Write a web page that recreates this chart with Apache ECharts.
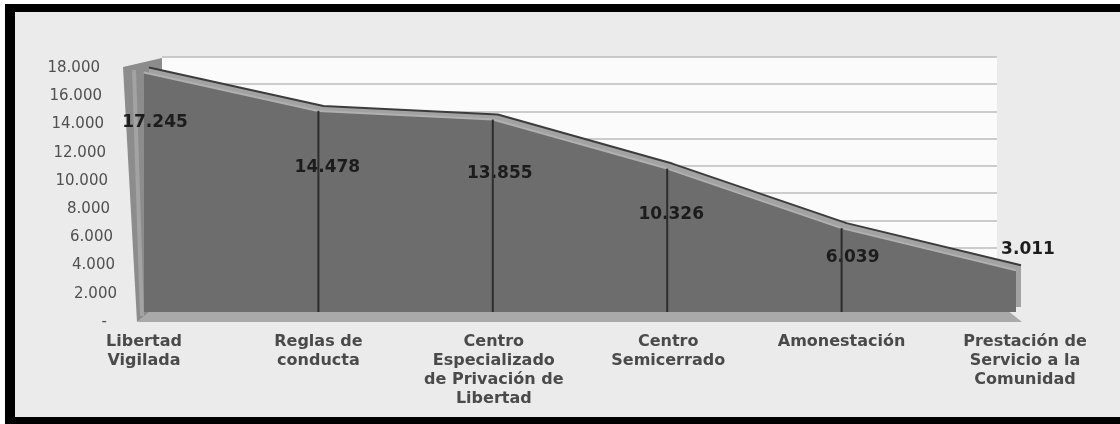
<!DOCTYPE html>
<html>
<head>
<meta charset="utf-8">
<script src="https://cdn.jsdelivr.net/npm/echarts@6/dist/echarts.min.js"></script>
<style>
  html, body { margin: 0; padding: 0; background: #ffffff; }
  #wrap { position: relative; width: 1120px; height: 424px; overflow: hidden; background: #ffffff; }
  #frame { position: absolute; left: 5px; top: 4px; width: 1115px; height: 420px; box-sizing: border-box;
           border-top: 8px solid #000; border-left: 10px solid #000; border-bottom: 7px solid #000; background: #ebebeb; }
  #chart { position: absolute; left: 0; top: 0; width: 1120px; height: 424px; }
</style>
</head>
<body>
<div id="wrap"><div id="frame"></div><div id="chart"></div></div>
<script>
// ---- data ----
const categories = [
  'Libertad\nVigilada',
  'Reglas de\nconducta',
  'Centro\nEspecializado\nde Privación de\nLibertad',
  'Centro\nSemicerrado',
  'Amonestación',
  'Prestación de\nServicio a la\nComunidad'
];
const values = [17245, 14478, 13855, 10326, 6039, 3011];
const yMin = 0, yMax = 18000, yStep = 2000;

// ---- label placement (style, not data) ----
const LABEL_OFFSETS = [[11, 50], [9, 57], [7, 54], [4, 46], [11, 29], [12, -21]];
const XLABEL_SHIFT = [0, 0, 2, 2, 0, 18];

function fmt(v) { return String(v).replace(/\B(?=(\d{3})+(?!\d))/g, '.'); }

const FONT = 'DejaVu Sans';
const richY = {};
for (let v = yMin; v <= yMax; v += yStep) {
  const pad = v === 0 ? 10 : Math.round(17 - (yMax - v) / yStep * 2.1);
  richY['p' + (v / yStep)] = { fontFamily: FONT, fontSize: 15, color: '#505050', padding: [0, pad, 0, 0] };
}
const richX = {};
XLABEL_SHIFT.forEach((s, i) => {
  richX['c' + i] = { fontFamily: FONT, fontSize: 16, fontWeight: 'bold', color: '#4a4a4a',
                     lineHeight: 19, align: 'center', padding: [0, 0, 0, s] };
});

const chart = echarts.init(document.getElementById('chart'), null, { renderer: 'canvas' });

const hiddenCat = (gi, bg) => ({
  type: 'category', gridIndex: gi, data: categories, boundaryGap: bg, show: false
});
const hiddenVal = (gi) => ({
  type: 'value', gridIndex: gi, min: yMin, max: yMax, interval: yStep, show: false, splitLine: { show: false }
});

const option = {
  animation: false,
  backgroundColor: 'transparent',
  grid: [
    { left: 120, top: 68, width: 872, height: 254 },                         // y-axis labels
    { left: 162, top: 57, width: 835, height: 245, show: true, backgroundColor: '#fbfbfb', borderWidth: 0 }, // back wall
    { left: 149, top: 57, width: 872, height: 250 },                         // back edge of area (top face)
    { left: 144, top: 62, width: 872, height: 250 }                          // front face
  ],
  xAxis: [
    hiddenCat(0, false),
    hiddenCat(1, false),
    hiddenCat(2, false),
    {
      type: 'category', gridIndex: 3, data: categories, boundaryGap: false,
      axisLine: { show: false }, axisTick: { show: false },
      axisLabel: {
        interval: 0, margin: 20, fontFamily: FONT, fontSize: 16, fontWeight: 'bold',
        color: '#4a4a4a', lineHeight: 19, align: 'center',
        formatter: (val, idx) => val.split('\n').map(line => '{c' + idx + '|' + line + '}').join('\n'),
        rich: richX
      }
    }
  ],
  yAxis: [
    {
      type: 'value', gridIndex: 0, min: yMin, max: yMax, interval: yStep,
      axisLine: { show: false }, axisTick: { show: false }, splitLine: { show: false },
      axisLabel: {
        margin: 3, align: 'right',
        formatter: v => '{p' + (v / yStep) + '|' + (v === 0 ? '-' : fmt(v)) + '}',
        rich: richY
      }
    },
    {
      type: 'value', gridIndex: 1, min: yMin, max: yMax, interval: yStep,
      axisLine: { show: false }, axisTick: { show: false }, axisLabel: { show: false },
      splitLine: { show: true, lineStyle: { color: '#bdbdbd', width: 1.5 } }
    },
    hiddenVal(2),
    hiddenVal(3)
  ],
  series: [
    {
      // 3D side wall and floor, anchored to the front axes
      type: 'custom', xAxisIndex: 3, yAxisIndex: 3, z: 1, silent: true,
      data: [[0, 0]],
      renderItem: function (params, api) {
        const tl = api.coord([0, yMax]);
        const bl = api.coord([0, yMin]);
        const br = api.coord([categories.length - 1, yMin]);
        return {
          type: 'group',
          children: [
            { type: 'polygon', shape: { points: [
                [bl[0] - 7, bl[1] + 10], [bl[0] + 18, bl[1] - 10], [br[0] - 19, br[1] - 10], [br[0] + 6, br[1] + 10]
              ] }, style: { fill: '#a9a9a9' } },
            { type: 'polygon', shape: { points: [
                [tl[0] - 21, tl[1] + 5], [tl[0] + 18, tl[1] - 4], [bl[0] + 18, bl[1] - 10], [bl[0] - 7, bl[1] + 10]
              ] }, style: { fill: '#8c8c8c' } },
            { type: 'line', shape: { x1: tl[0] - 10, y1: tl[1] + 8, x2: bl[0] - 2, y2: bl[1] + 4 },
              style: { stroke: '#a3a3a3', lineWidth: 4 } }
          ]
        };
      }
    },
    {
      // back edge of the area (top face)
      type: 'line', xAxisIndex: 2, yAxisIndex: 2, z: 2, silent: true,
      data: values, symbol: 'none',
      lineStyle: { color: '#3c3c3c', width: 2 },
      areaStyle: { color: '#a2a2a2', opacity: 1 }
    },
    {
      // front face
      type: 'line', xAxisIndex: 3, yAxisIndex: 3, z: 3,
      data: values.map((v, i) => ({ value: v, label: { offset: LABEL_OFFSETS[i] } })),
      symbol: 'circle', symbolSize: 1, showAllSymbol: true,
      itemStyle: { color: '#b0b0b0' },
      lineStyle: { color: '#b0b0b0', width: 2 },
      areaStyle: { color: '#6d6d6d', opacity: 1 },
      label: {
        show: true, position: 'inside',
        formatter: p => fmt(p.value),
        fontFamily: FONT, fontSize: 17, fontWeight: 'bold', color: '#1c1c1c'
      }
    },
    {
      // dark vertical edges at the inner categories
      type: 'bar', xAxisIndex: 3, yAxisIndex: 3, z: 4, silent: true,
      barWidth: 2,
      data: values.map((v, i) => (i > 0 && i < values.length - 1) ? v : '-'),
      itemStyle: { color: '#2c2c2c' }
    }
  ]
};
chart.setOption(option);
</script>
</body>
</html>
